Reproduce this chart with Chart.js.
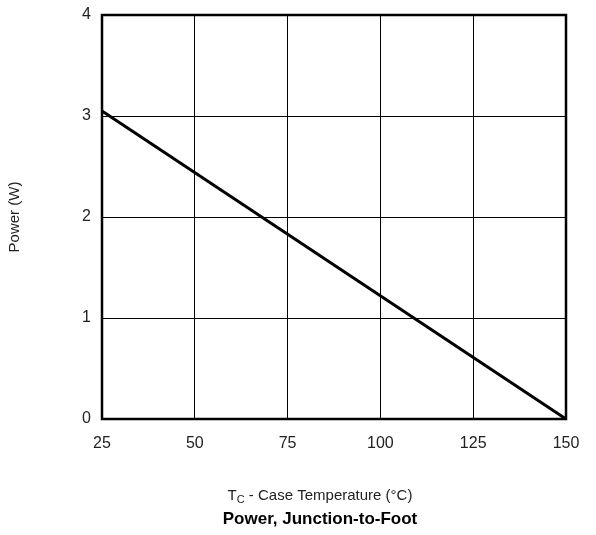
<!DOCTYPE html>
<html>
<head>
<meta charset="utf-8">
<script src="https://cdn.jsdelivr.net/npm/chart.js@4/dist/chart.umd.min.js"></script>
<style>
  html, body { margin: 0; padding: 0; background: #fff; }
  #wrap { width: 596px; height: 535px; position: relative; }
</style>
</head>
<body>
<div id="wrap"><canvas id="powerChart"></canvas></div>
<script>
// derating curve
const caseTemps = [25, 150];
const powerW = [3.05, 0];
const xTicks = [25, 50, 75, 100, 125, 150];
const yTicks = [0, 1, 2, 3, 4];

const FONT = '"Liberation Sans", Arial, sans-serif';

// frame + axis titles (the x title needs a subscript, so draw by hand)
const decorPlugin = {
    id: 'decor',
    afterDatasetsDraw(chart) {
        const { ctx, chartArea: a } = chart;
        ctx.save();
        ctx.strokeStyle = '#000';
        ctx.lineWidth = 2.5;
        ctx.strokeRect(a.left, a.top, a.right - a.left, a.bottom - a.top);

        ctx.fillStyle = '#222';
        ctx.textBaseline = 'middle';

        // y title
        ctx.save();
        ctx.translate(15, (a.top + a.bottom) / 2);
        ctx.rotate(-Math.PI / 2);
        ctx.textAlign = 'center';
        ctx.font = '15px ' + FONT;
        ctx.fillText('Power (W)', 0, 0);
        ctx.restore();

        // x title with subscript
        const cx = 320;
        const y = 496;
        const t1 = 'T';
        const t3 = ' - Case Temperature (°C)';
        ctx.font = '11px ' + FONT;
        const wSub = ctx.measureText('C').width;
        ctx.font = '15px ' + FONT;
        const w1 = ctx.measureText(t1).width;
        const w3 = ctx.measureText(t3).width;
        let x = cx - (w1 + wSub + w3) / 2;
        ctx.textAlign = 'left';
        ctx.fillText(t1, x, y);
        x += w1;
        ctx.font = '11px ' + FONT;
        ctx.fillText('C', x, y + 4);
        x += wSub;
        ctx.font = '15px ' + FONT;
        ctx.fillText(t3, x, y);

        // caption
        ctx.fillStyle = '#000';
        ctx.textAlign = 'center';
        ctx.font = 'bold 17px ' + FONT;
        ctx.fillText('Power, Junction-to-Foot', cx, 519);
        ctx.restore();
    }
};

document.addEventListener('DOMContentLoaded', () => {
    const ctx = document.getElementById('powerChart').getContext('2d');
    new Chart(ctx, {
        type: 'line',
        data: {
            datasets: [{
                label: 'Power',
                data: caseTemps.map((t, i) => ({ x: t, y: powerW[i] })),
                borderColor: '#000',
                borderWidth: 3,
                pointRadius: 0,
                fill: false,
                tension: 0,
                clip: false
            }]
        },
        options: {
            responsive: true,
            maintainAspectRatio: false,
            animation: false,
            devicePixelRatio: 1,
            layout: { padding: { top: 15, right: 30, left: 0, bottom: 0 } },
            plugins: {
                legend: { display: false },
                tooltip: { enabled: false }
            },
            scales: {
                x: {
                    type: 'linear',
                    min: 25,
                    max: 150,
                    afterBuildTicks: s => { s.ticks = xTicks.map(v => ({ value: v })); },
                    afterFit: s => { s.height = 116; s.paddingLeft = 0; s.paddingRight = 0; },
                    grid: { color: '#000', lineWidth: 1, drawTicks: false },
                    border: { display: false },
                    ticks: {
                        color: '#222',
                        padding: 15,
                        maxRotation: 0,
                        font: { family: FONT, size: 16 }
                    }
                },
                y: {
                    min: 0,
                    max: 4,
                    afterBuildTicks: s => { s.ticks = yTicks.map(v => ({ value: v })); },
                    afterFit: s => { s.width = 102; s.paddingTop = 0; s.paddingBottom = 0; },
                    grid: { color: '#000', lineWidth: 1, drawTicks: false },
                    border: { display: false },
                    ticks: {
                        color: '#222',
                        padding: 11,
                        font: { family: FONT, size: 16 }
                    }
                }
            }
        },
        plugins: [decorPlugin]
    });
});
</script>
</body>
</html>
